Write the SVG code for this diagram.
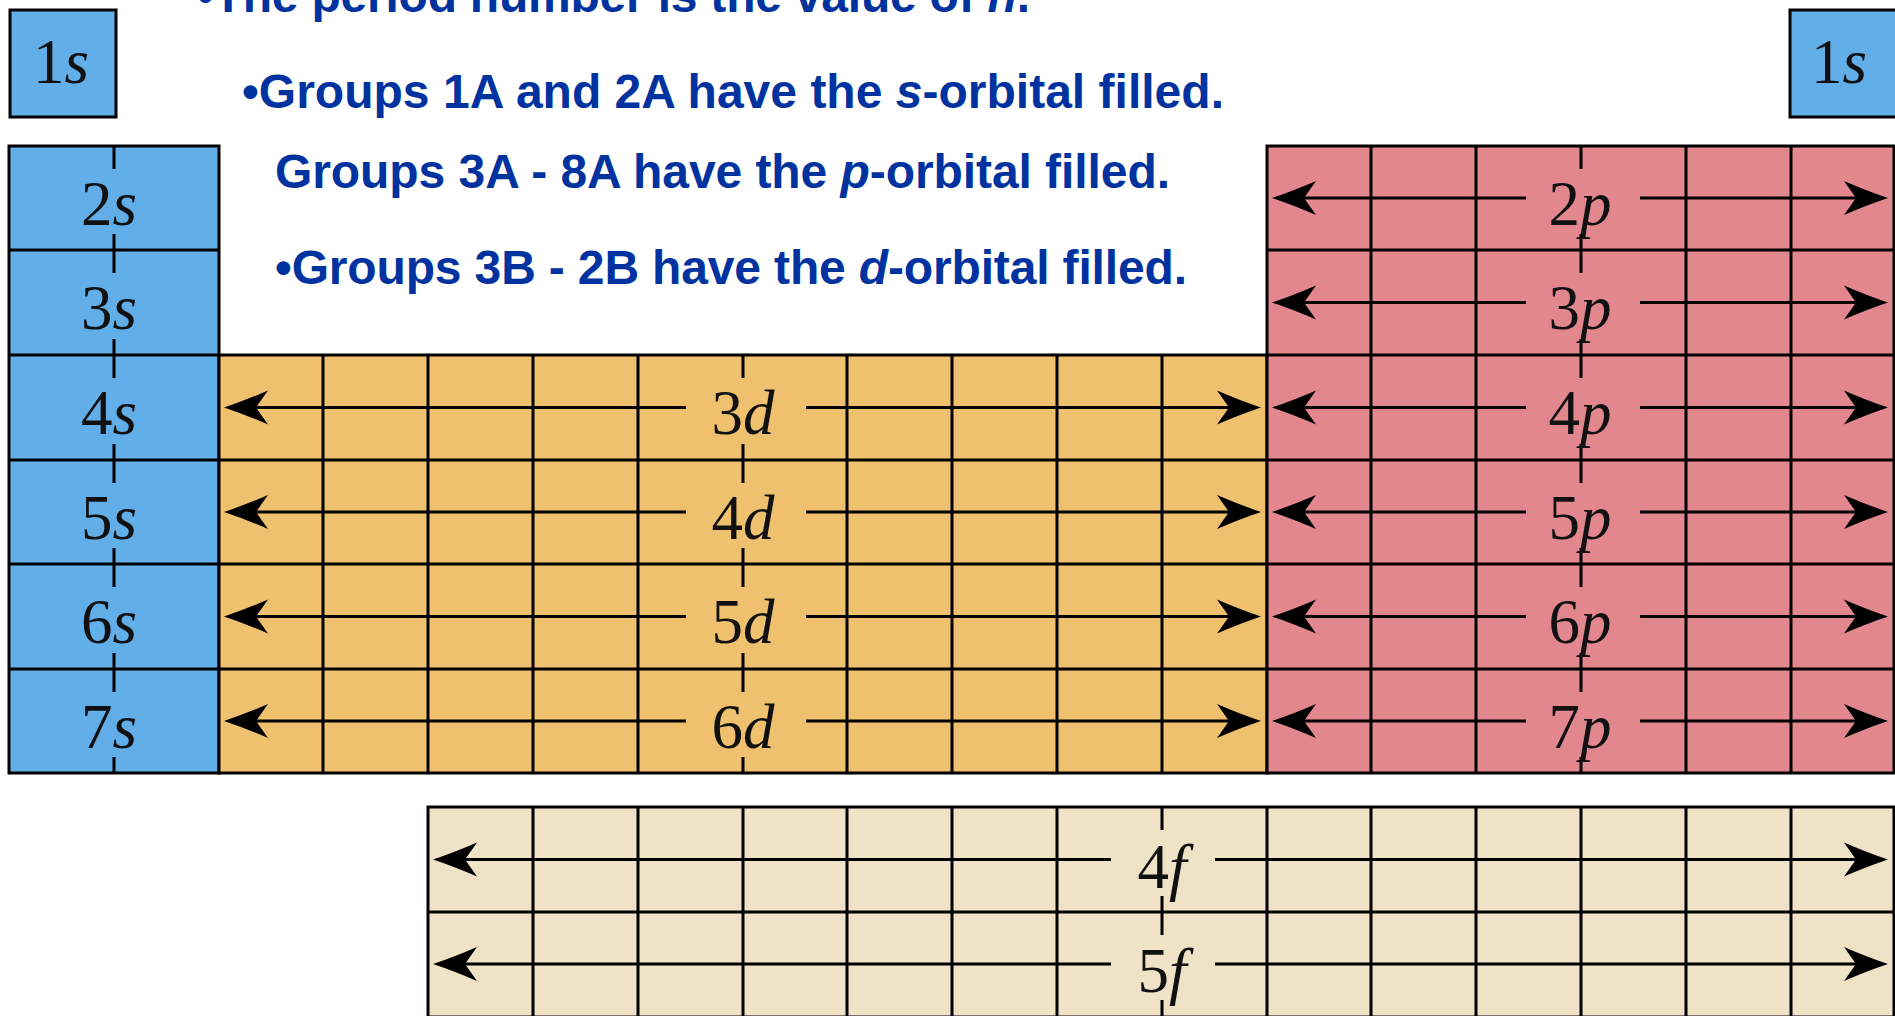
<svg xmlns="http://www.w3.org/2000/svg" width="1895" height="1016" viewBox="0 0 1895 1016">
<style>
.g{stroke:#000;stroke-width:3;fill:none}
.lbl{font-family:"Liberation Serif","Times New Roman",serif;font-size:63px;fill:#111;text-anchor:middle}
.it{font-style:italic}
.txt{font-family:"Liberation Sans",Arial,sans-serif;font-weight:bold;font-size:48px;fill:#0033a0}
.arr{stroke:#000;stroke-width:3;fill:none;marker-end:url(#ah)}
</style>
<defs>
<marker id="ah" markerUnits="userSpaceOnUse" markerWidth="50" markerHeight="38" viewBox="0 0 50 38" refX="24" refY="19" orient="auto">
<path d="M46,19 Q25,12 2,2 L14,19 L2,36 Q25,26 46,19 Z" fill="#000"/>
</marker>
</defs>
<rect width="1895" height="1016" fill="#fff"/>

<g id="text">
<text class="txt" x="197" y="12" textLength="833">•The period number is the value of <tspan class="it">n</tspan>.</text>
<text class="txt" x="242" y="108" textLength="982">•Groups 1A and 2A have the <tspan class="it">s</tspan>-orbital filled.</text>
<text class="txt" x="275" y="188" textLength="895">Groups 3A - 8A have the <tspan class="it">p</tspan>-orbital filled.</text>
<text class="txt" x="275" y="284" textLength="912">•Groups 3B - 2B have the <tspan class="it">d</tspan>-orbital filled.</text>
</g>

<g id="h1s-left">
<rect class="g" x="10" y="10" width="106" height="107" style="fill:#62aee9"/>
<text class="lbl" x="61" y="83">1<tspan class="it">s</tspan></text>
</g>
<g id="h1s-right">
<rect class="g" x="1790" y="10" width="110" height="107" style="fill:#62aee9"/>
<text class="lbl" x="1839" y="83">1<tspan class="it">s</tspan></text>
</g>

<g id="s-block">
<rect x="9" y="146" width="210" height="627" fill="#62aee9"/>
<path class="g" d="M9,250H219M9,355H219M9,460H219M9,564H219M9,669H219"/>
<path class="g" d="M114,146v23M114,234v39M114,339v39M114,444v39M114,548v39M114,653v39M114,757v16"/>
<rect class="g" x="9" y="146" width="210" height="627"/>
<text class="lbl" x="109" y="225">2<tspan class="it">s</tspan></text>
<text class="lbl" x="109" y="329">3<tspan class="it">s</tspan></text>
<text class="lbl" x="109" y="434">4<tspan class="it">s</tspan></text>
<text class="lbl" x="109" y="539">5<tspan class="it">s</tspan></text>
<text class="lbl" x="109" y="643">6<tspan class="it">s</tspan></text>
<text class="lbl" x="109" y="748">7<tspan class="it">s</tspan></text>
</g>

<g id="d-block">
<rect x="219" y="355" width="1048" height="418" fill="#efc16e"/>
<path class="g" d="M219,460H1267M219,564H1267M219,669H1267"/>
<path class="g" d="M323,355V773M428,355V773M533,355V773M638,355V773M847,355V773M952,355V773M1057,355V773M1162,355V773"/>
<path class="g" d="M743,355v23M743,444v39M743,548v39M743,653v39M743,757v16"/>
<rect class="g" x="219" y="355" width="1048" height="418"/>
<text class="lbl" x="743" y="434">3<tspan class="it">d</tspan></text>
<text class="lbl" x="743" y="539">4<tspan class="it">d</tspan></text>
<text class="lbl" x="743" y="643">5<tspan class="it">d</tspan></text>
<text class="lbl" x="743" y="748">6<tspan class="it">d</tspan></text>
</g>

<g id="p-block">
<rect x="1267" y="146" width="630" height="627" fill="#e3878f"/>
<path class="g" d="M1267,250H1897M1267,355H1897M1267,460H1897M1267,564H1897M1267,669H1897"/>
<path class="g" d="M1371,146V773M1476,146V773M1686,146V773M1791,146V773"/>
<path class="g" d="M1581,146v23M1581,234v39M1581,339v39M1581,444v39M1581,548v39M1581,653v39M1581,757v16"/>
<rect class="g" x="1267" y="146" width="627" height="627"/>
<text class="lbl" x="1580" y="225">2<tspan class="it">p</tspan></text>
<text class="lbl" x="1580" y="329">3<tspan class="it">p</tspan></text>
<text class="lbl" x="1580" y="434">4<tspan class="it">p</tspan></text>
<text class="lbl" x="1580" y="539">5<tspan class="it">p</tspan></text>
<text class="lbl" x="1580" y="643">6<tspan class="it">p</tspan></text>
<text class="lbl" x="1580" y="748">7<tspan class="it">p</tspan></text>
</g>

<g id="f-block">
<rect x="428" y="807" width="1469" height="212" fill="#f0e2c7"/>
<path class="g" d="M428,912H1897"/>
<path class="g" d="M533,807V1020M638,807V1020M743,807V1020M847,807V1020M952,807V1020M1057,807V1020M1267,807V1020M1371,807V1020M1476,807V1020M1581,807V1020M1686,807V1020M1791,807V1020"/>
<path class="g" d="M1162,807v23M1162,896v39M1162,1000v20"/>
<rect class="g" x="428" y="807" width="1466" height="210"/>
<text class="lbl" x="1162" y="888">4<tspan class="it">f</tspan></text>
<text class="lbl" x="1162" y="992">5<tspan class="it">f</tspan></text>
</g>

<g id="connectors">
<path class="arr" d="M686,407.5H246"/><path class="arr" d="M806,407.5H1239"/>
<path class="arr" d="M686,512H246"/><path class="arr" d="M806,512H1239"/>
<path class="arr" d="M686,616.5H246"/><path class="arr" d="M806,616.5H1239"/>
<path class="arr" d="M686,721H246"/><path class="arr" d="M806,721H1239"/>

<path class="arr" d="M1526,198H1294"/><path class="arr" d="M1640,198H1866"/>
<path class="arr" d="M1526,302.5H1294"/><path class="arr" d="M1640,302.5H1866"/>
<path class="arr" d="M1526,407.5H1294"/><path class="arr" d="M1640,407.5H1866"/>
<path class="arr" d="M1526,512H1294"/><path class="arr" d="M1640,512H1866"/>
<path class="arr" d="M1526,616.5H1294"/><path class="arr" d="M1640,616.5H1866"/>
<path class="arr" d="M1526,721H1294"/><path class="arr" d="M1640,721H1866"/>

<path class="arr" d="M1111,859.5H455"/><path class="arr" d="M1215,859.5H1866"/>
<path class="arr" d="M1111,964H455"/><path class="arr" d="M1215,964H1866"/>
</g>
</svg>
